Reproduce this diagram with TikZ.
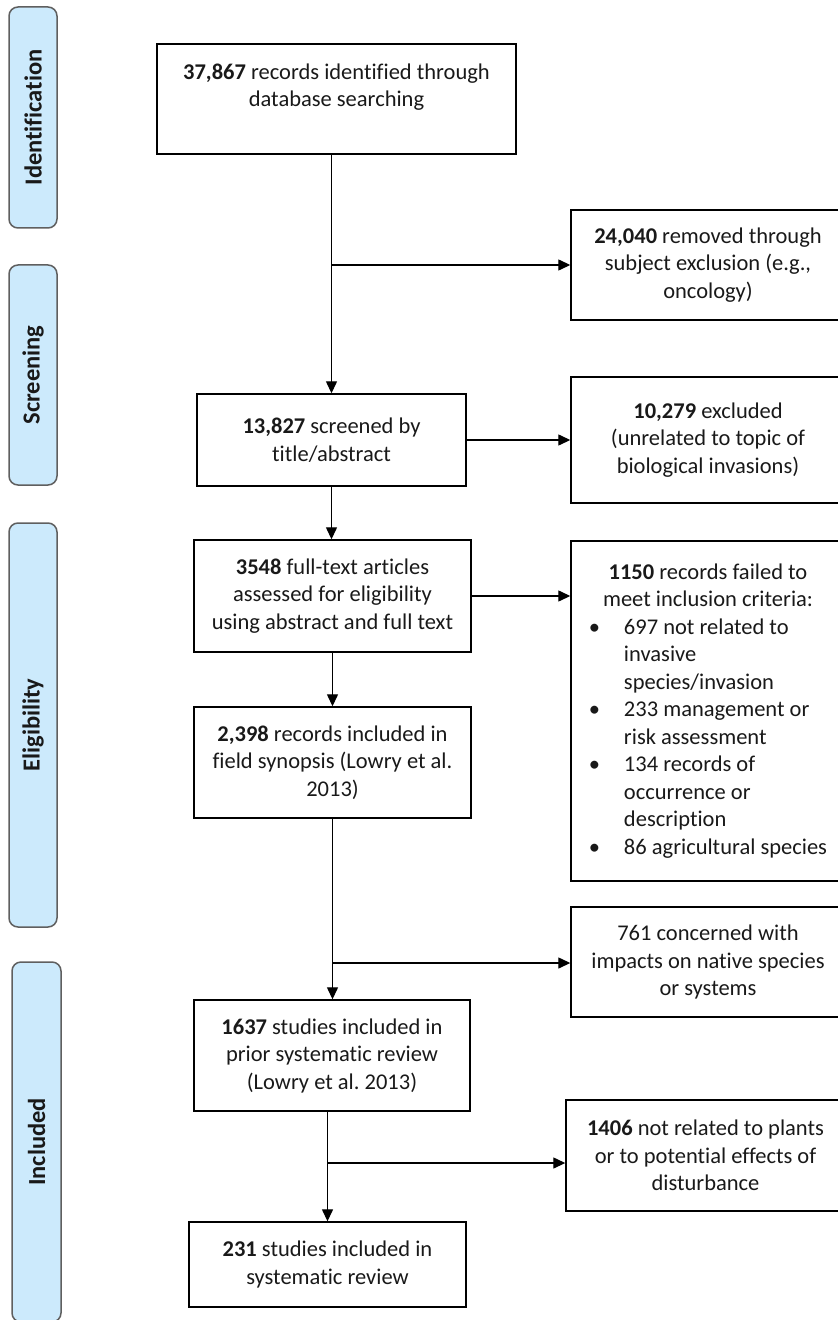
\documentclass[tikz,border=0pt]{standalone}
\usepackage{fontspec}
\setmainfont{Carlito}[Ligatures=NoCommon]
\usetikzlibrary{arrows.meta}
\definecolor{phasefill}{RGB}{204,234,252}
\definecolor{phasedraw}{RGB}{95,95,95}
\definecolor{txt}{RGB}{25,25,25}
\tikzset{
 stdbox/.style={draw=black, line width=0.7pt, align=center, inner sep=0pt, text=txt, font=\fontsize{11.25pt}{13.75pt}\selectfont},
 phase/.style={draw=phasedraw, fill=phasefill, line width=0.75pt, rounded corners=4.5pt, rotate=90, inner sep=0pt, font=\bfseries\fontsize{12.25pt}{14pt}\selectfont, text=txt},
 arr/.style={line width=0.65pt, -{Triangle[length=6pt,width=5.5pt]}}
}
\frenchspacing
\begin{document}
\begin{tikzpicture}[x=0.5pt,y=-0.5pt]
\useasboundingbox (0,0) rectangle (838,1320);
\begin{scope}
\clip (0,0) rectangle (838,1320);
% phase labels
\node[phase, minimum width=110.5pt, minimum height=24pt] (pid) at (33,117.5) {Identification};
\node[phase, minimum width=110pt, minimum height=24pt] (pscr) at (33,375) {Screening};
\node[phase, minimum width=202pt, minimum height=24pt] (peli) at (33,725) {Eligibility};
\node[phase, minimum width=180pt, minimum height=24.5pt] (pinc) at (36.5,1142) {Included};
% main column
\node[stdbox, minimum width=179.5pt, minimum height=55pt] (b1) at (336.5,99) {\textbf{37,867} records identified through\\database searching\\\mbox{}};
\node[stdbox, minimum width=134.5pt, minimum height=46pt] (b2) at (331.5,440) {\textbf{13,827} screened by\\title/abstract};
\node[stdbox, minimum width=138.5pt, minimum height=56pt] (b3) at (332.5,596) {\textbf{3548} full-text articles\\assessed for eligibility\\using abstract and full text};
\node[stdbox, minimum width=138.5pt, minimum height=55.5pt] (b4) at (332.5,762.5) {\textbf{2,398} records included in\\field synopsis (Lowry et al.\\2013)};
\node[stdbox, minimum width=138pt, minimum height=55.5pt] (b5) at (332,1055.5) {\textbf{1637} studies included in\\prior systematic review\\(Lowry et al.\ 2013)};
\node[stdbox, minimum width=138.5pt, minimum height=42.5pt] (b6) at (327.5,1264.5) {\textbf{231} studies included in\\systematic review};
% right column
\node[stdbox, minimum width=137pt, minimum height=55pt] (r1) at (708,265) {\textbf{24,040} removed through\\subject exclusion (e.g.,\\oncology)};
\node[stdbox, minimum width=137pt, minimum height=63pt] (r2) at (708,440) {\textbf{10,279} excluded\\(unrelated to topic of\\biological invasions)};
\node[stdbox, minimum width=137pt, minimum height=170pt] (r3) at (708,711) {\begin{tabular}{@{}p{17.5pt}@{}l@{}}
\multicolumn{2}{c}{\textbf{1150} records failed to}\\
\multicolumn{2}{c}{meet inclusion criteria:}\\
\textbullet & 697 not related to\\
 & invasive\\
 & species/invasion\\
\textbullet & 233 management or\\
 & risk assessment\\
\textbullet & 134 records of\\
 & occurrence or\\
 & description\\
\textbullet & 86 agricultural species
\end{tabular}};
\node[stdbox, minimum width=137pt, minimum height=55pt] (r4) at (708,962) {761 concerned with\\impacts on native species\\or systems};
\node[stdbox, minimum width=139.5pt, minimum height=55.5pt] (r5) at (705.5,1155.5) {\textbf{1406} not related to plants\\or to potential effects of\\disturbance};
% connectors
\coordinate (j1) at (331.5,265);
\coordinate (j2) at (332.5,963);
\coordinate (j3) at (327.5,1163);
\draw[arr] (b2.north |- b1.south) -- (b2.north);
\draw[arr] (j1) -- (j1 -| r1.west);
\draw[arr] (b2.east) -- (b2.east -| r2.west);
\draw[arr] (b2.south) -- (b2.south |- b3.north);
\draw[arr] (b3.east) -- (b3.east -| r3.west);
\draw[arr] (b3.south) -- (b3.south |- b4.north);
\draw[arr] (b4.south) -- (b4.south |- b5.north);
\draw[arr] (j2) -- (j2 -| r4.west);
\draw[arr] (b6.north |- b5.south) -- (b6.north);
\draw[arr] (j3) -- (j3 -| r5.west);
\end{scope}
\end{tikzpicture}
\end{document}
